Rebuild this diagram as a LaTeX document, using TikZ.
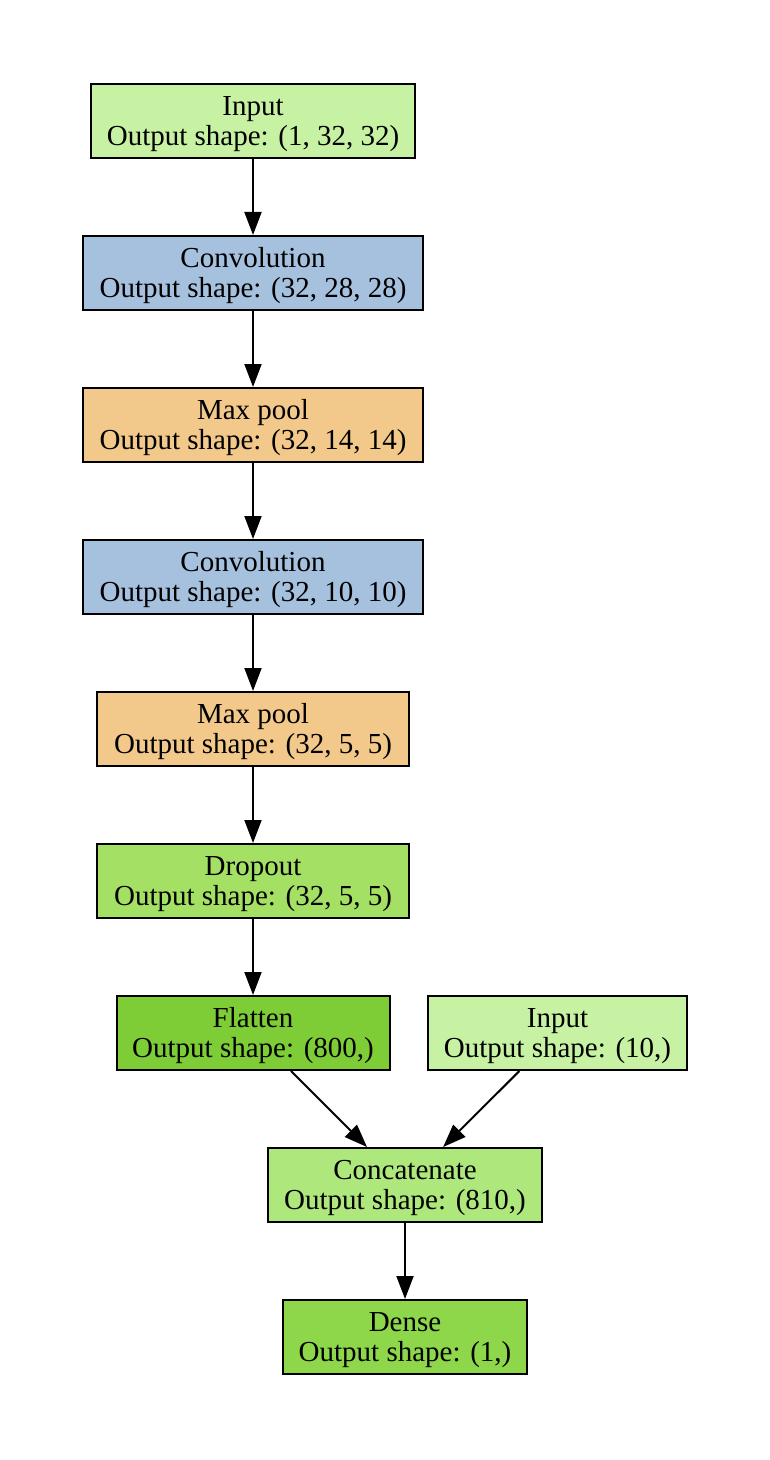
\documentclass[tikz,border=0pt]{standalone}
\usepackage{fontspec}
\setmainfont{Liberation Serif}
\usepackage{tikz}
\usetikzlibrary{arrows.meta}

\definecolor{inputcol}{HTML}{C7F2A4}
\definecolor{convcol}{HTML}{A6C1DE}
\definecolor{poolcol}{HTML}{F2C98B}
\definecolor{dropcol}{HTML}{A3E063}
\definecolor{flatcol}{HTML}{7ECD37}
\definecolor{concatcol}{HTML}{AEE87C}
\definecolor{densecol}{HTML}{8ED64A}

\begin{document}
\begin{tikzpicture}[x=0.5pt,y=-0.5pt]
  \tikzstyle{LayerStyle}=[draw=black,line width=1pt,align=center,
    minimum height=37pt,inner sep=0pt,text height=28pt,
    font=\fontsize{14.5}{15}\selectfont]
  \tikzstyle{EdgeStyle}=[line width=1pt,-{Triangle[length=11.5pt,width=8.5pt]}]
  \useasboundingbox (0,0) rectangle (770,1460);
  \node[LayerStyle,fill=inputcol,minimum width=162pt] (In) at (253,121)
    {Input\\Output shape: (1, 32, 32)};
  \node[LayerStyle,fill=convcol,minimum width=170pt] (ConvA) at (253,273)
    {Convolution\\Output shape: (32, 28, 28)};
  \node[LayerStyle,fill=poolcol,minimum width=170pt] (PoolA) at (253,425)
    {Max pool\\Output shape: (32, 14, 14)};
  \node[LayerStyle,fill=convcol,minimum width=170pt] (ConvB) at (253,577)
    {Convolution\\Output shape: (32, 10, 10)};
  \node[LayerStyle,fill=poolcol,minimum width=156pt] (PoolB) at (253,729)
    {Max pool\\Output shape: (32, 5, 5)};
  \node[LayerStyle,fill=dropcol,minimum width=156pt] (Drop) at (253,881)
    {Dropout\\Output shape: (32, 5, 5)};
  \node[LayerStyle,fill=flatcol,minimum width=136.5pt] (Flat) at (253,1033)
    {Flatten\\Output shape: (800,)};
  \node[LayerStyle,fill=inputcol,minimum width=129.5pt] (InB) at (557.5,1033)
    {Input\\Output shape: (10,)};
  \node[LayerStyle,fill=concatcol,minimum width=137pt] (Concat) at (405,1185)
    {Concatenate\\Output shape: (810,)};
  \node[LayerStyle,fill=densecol,minimum width=122pt] (Dense) at (405,1337)
    {Dense\\Output shape: (1,)};
  \draw[EdgeStyle] (In) -- (ConvA);
  \draw[EdgeStyle] (ConvA) -- (PoolA);
  \draw[EdgeStyle] (PoolA) -- (ConvB);
  \draw[EdgeStyle] (ConvB) -- (PoolB);
  \draw[EdgeStyle] (PoolB) -- (Drop);
  \draw[EdgeStyle] (Drop) -- (Flat);
  \draw[EdgeStyle] (Flat) -- (Concat);
  \draw[EdgeStyle] (InB) -- (Concat);
  \draw[EdgeStyle] (Concat) -- (Dense);
\end{tikzpicture}
\end{document}
